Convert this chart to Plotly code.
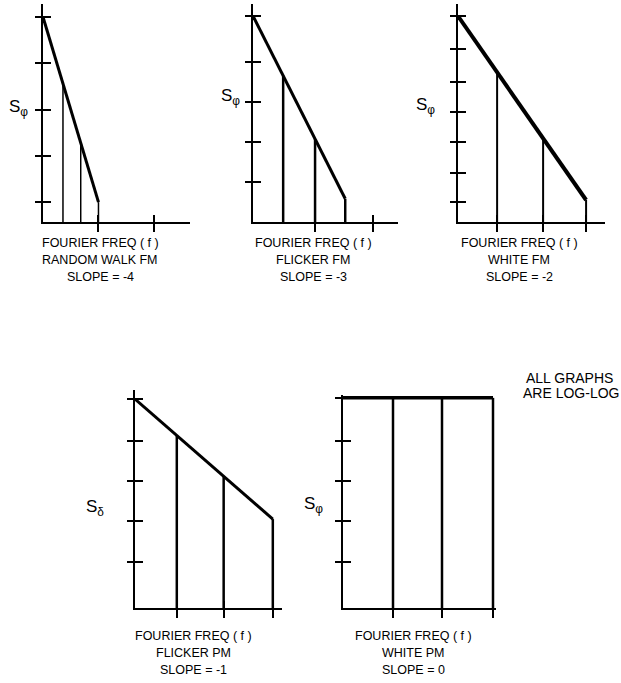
import plotly.graph_objects as go

W, H = 621, 683

# Schematic phase-noise spectra, log-log, values in decades
panel_names = ['RANDOM WALK FM', 'FLICKER FM', 'WHITE FM', 'FLICKER PM', 'WHITE PM']
slope_text = ['SLOPE = -4', 'SLOPE = -3', 'SLOPE = -2', 'SLOPE = -1', 'SLOPE = 0']
s_labels = ['S<sub>φ</sub>', 'S<sub>φ</sub>', 'S<sub>φ</sub>', 'S<sub>δ</sub>', 'S<sub>φ</sub>']

line_x = [[0, 1.0], [0, 1.59], [0, 2.98], [0, 3.0], [0, 3.0]]
line_y = [[4.0, 0.0], [5.15, 0.58], [6.0, 0.06], [3.98, 1.05], [4.0, 4.0]]

drop_x = [[0.36, 0.68, 1.0], [0.52, 1.07, 1.59], [0.91, 1.98, 2.98],
          [0.91, 1.93, 3.0], [1.0, 1.98, 3.0]]
drop_y = [[2.56, 1.28, 0.0], [3.66, 2.07, 0.58], [4.19, 2.05, 0.06],
          [3.09, 2.10, 1.05], [4.0, 4.0, 4.0]]

ytick_vals = [[0, 1, 2, 3, 4],
              [1, 2, 3, 4, 5.15],
              [0, 0.94, 1.94, 2.90, 3.87, 4.94, 6.0],
              [0, 1, 1.98, 2.95, 3.98],
              [0, 1, 1.98, 2.95, 4.0]]
xtick_vals = [[1.0, 2.0], [1.07, 2.07], [0.91, 1.98, 2.98],
              [0.91, 1.93, 3.0], [1.0, 1.98, 3.0]]

x_ranges = [[0, 2.65], [0, 2.5], [0, 3.42], [0, 3.2], [0, 3.06]]
y_ranges = [[-0.43, 4.28], [0, 5.45], [-0.65, 6.39], [-1.12, 4.2], [-1.12, 4.07]]

# layout in pixels: left, right, top, bottom of each plotting box
boxes = [(43, 190, 4, 222), (253, 398, 4, 222), (458, 605, 4, 222),
         (135, 282, 390, 608), (343, 496, 395, 608)]
line_w = [3, 3, 4, 3, 3.5]
drop_w = [1.5, 2.5, 2, 2.5, 2.5]
caption_x = [100, 313, 519, 193, 413]
caption_y = [243, 243, 243, 636, 636]
s_pos = [(7, 108), (219, 97), (414, 106), (84, 508), (302, 505)]


def ax(letter, n):
    return letter if n == 1 else f'{letter}{n}'


fig = go.Figure()
layout = {}
annotations = []

for i in range(5):
    k = i + 1
    ov = k + 5
    left, right, top, bottom = boxes[i]
    xdom = [left / W, right / W]
    ydom = [1 - bottom / H, 1 - top / H]
    ymin = y_ranges[i][0]

    # sloped spectrum line
    fig.add_trace(go.Scatter(
        x=line_x[i], y=line_y[i], mode='lines',
        line=dict(color='black', width=line_w[i]),
        xaxis=ax('x', k), yaxis=ax('y', k), showlegend=False, hoverinfo='skip'
    ))

    # vertical drop lines
    dx, dy = [], []
    for xv, yv in zip(drop_x[i], drop_y[i]):
        dx += [xv, xv, None]
        dy += [ymin, yv, None]
    fig.add_trace(go.Scatter(
        x=dx, y=dy, mode='lines',
        line=dict(color='black', width=drop_w[i]),
        xaxis=ax('x', k), yaxis=ax('y', k), showlegend=False, hoverinfo='skip'
    ))

    # empty trace so the overlay axes (inner half of the ticks) get drawn
    fig.add_trace(go.Scatter(
        x=[None], y=[None], mode='lines',
        xaxis=ax('x', ov), yaxis=ax('y', ov), showlegend=False, hoverinfo='skip'
    ))

    common = dict(showgrid=False, zeroline=False, showticklabels=False,
                  tickmode='array', tickcolor='black', tickwidth=1.5,
                  fixedrange=True)

    layout['xaxis' if k == 1 else f'xaxis{k}'] = dict(
        domain=xdom, range=x_ranges[i], anchor=ax('y', k),
        showline=True, linecolor='black', linewidth=1.5,
        tickvals=xtick_vals[i], ticks='outside', ticklen=8, **common)
    layout['yaxis' if k == 1 else f'yaxis{k}'] = dict(
        domain=ydom, range=y_ranges[i], anchor=ax('x', k),
        showline=True, linecolor='black', linewidth=1.5,
        tickvals=ytick_vals[i], ticks='outside', ticklen=6, **common)
    layout[f'xaxis{ov}'] = dict(
        overlaying=ax('x', k), anchor=ax('y', k), side='bottom',
        range=x_ranges[i], showline=False,
        tickvals=xtick_vals[i], ticks='inside', ticklen=7, **common)
    layout[f'yaxis{ov}'] = dict(
        overlaying=ax('y', k), anchor=ax('x', k), side='left',
        range=y_ranges[i], showline=False,
        tickvals=ytick_vals[i], ticks='inside', ticklen=8, **common)

    # captions under each graph
    for j, txt in enumerate(['FOURIER FREQ ( f )', panel_names[i], slope_text[i]]):
        annotations.append(dict(
            text=txt, x=caption_x[i] / W, y=1 - (caption_y[i] + 17 * j) / H,
            xref='paper', yref='paper', xanchor='center', yanchor='middle',
            showarrow=False, font=dict(size=12.5, color='black')
        ))

    sx, sy = s_pos[i]
    annotations.append(dict(
        text=s_labels[i], x=sx / W, y=1 - sy / H, xref='paper', yref='paper',
        xanchor='left', yanchor='middle', showarrow=False,
        font=dict(size=17, color='black')
    ))

annotations.append(dict(
    text='ALL GRAPHS', x=569 / W, y=1 - 378 / H, xref='paper', yref='paper',
    xanchor='center', yanchor='middle', showarrow=False,
    font=dict(size=14, color='black')
))
annotations.append(dict(
    text='ARE LOG-LOG', x=571 / W, y=1 - 393 / H, xref='paper', yref='paper',
    xanchor='center', yanchor='middle', showarrow=False,
    font=dict(size=14, color='black')
))

fig.update_layout(
    width=W, height=H,
    margin=dict(l=0, r=0, t=0, b=0),
    paper_bgcolor='white', plot_bgcolor='white',
    font=dict(family='Liberation Sans, Arial, sans-serif', color='black'),
    annotations=annotations,
    showlegend=False,
    **layout
)

# page body has a default 8px margin; drop it so the figure sits at the corner
fig.write_html(
    "out.html",
    config={'displayModeBar': False},
    post_script="document.body.style.margin='0';document.body.style.overflow='hidden';"
)
